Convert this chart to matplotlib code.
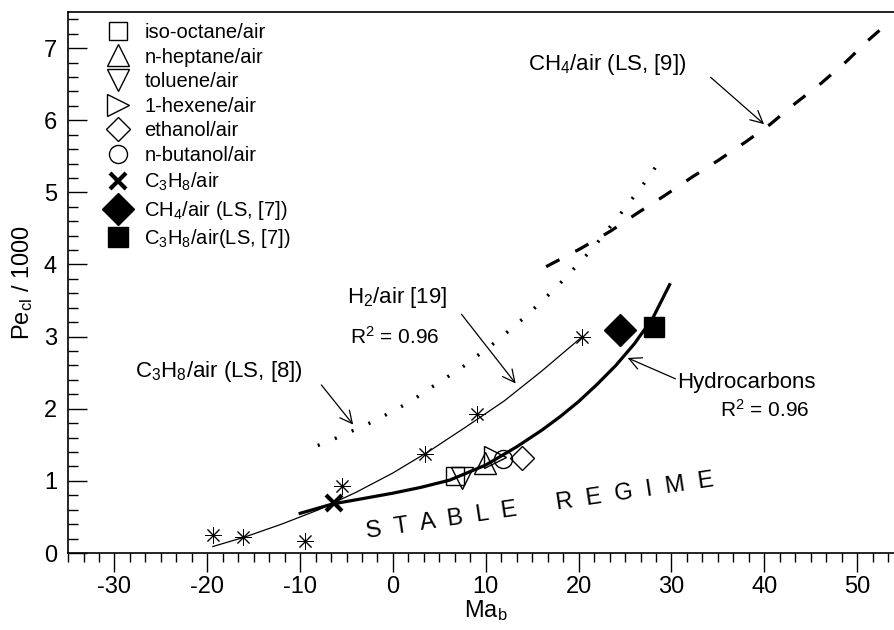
import matplotlib
matplotlib.use("Agg")
import matplotlib.pyplot as plt
from matplotlib.ticker import MultipleLocator, AutoMinorLocator

plt.rcParams["font.family"] = ["Liberation Sans", "DejaVu Sans"]
plt.rcParams["mathtext.fontset"] = "custom"
plt.rcParams["mathtext.rm"] = "Liberation Sans"
plt.rcParams["mathtext.it"] = "Liberation Sans:italic"
plt.rcParams["axes.unicode_minus"] = False

# H2/air [19] measurements
h2_ma = [-19.4, -16.2, -9.5, -5.5, 3.5, 9.0, 20.4]
h2_pe = [0.25, 0.22, 0.17, 0.93, 1.37, 1.93, 3.0]

# fitted curves
h2_fit_ma = [-19.4, -16, -12, -8, -4, 0, 4, 8, 12, 16, 20.4]
h2_fit_pe = [0.09, 0.22, 0.40, 0.60, 0.84, 1.11, 1.42, 1.76, 2.11, 2.52, 3.0]
hc_fit_ma = [-10.0, -6.5, -3, 0, 3, 6.1, 10, 13.3, 16, 18, 20, 22, 24, 26, 28, 29.8]
hc_fit_pe = [0.55, 0.68, 0.76, 0.83, 0.91, 1.01, 1.22, 1.47, 1.70, 1.89, 2.10, 2.34,
             2.60, 2.90, 3.26, 3.72]

# LS references
c3h8_ls8_ma = [-8.1, -6.0, -2.0, 1.9, 3.7, 7.4, 11.0, 14.3, 17.5, 20.5, 22.0, 24.8, 27.5, 28.7]
c3h8_ls8_pe = [1.49, 1.60, 1.83, 2.10, 2.26, 2.57, 2.92, 3.28, 3.67, 4.08, 4.30, 4.75, 5.20, 5.43]
ch4_ls9_ma = [16.5, 20.2, 23.4, 26.3, 29.2, 32.2, 35.0, 38.0, 40.6, 43.4, 46.1, 48.8, 51.3, 53.5]
ch4_ls9_pe = [3.97, 4.22, 4.46, 4.71, 4.95, 5.21, 5.44, 5.70, 5.94, 6.24, 6.51, 6.81, 7.12, 7.37]

# hydrocarbon points
fuels = ["iso-octane/air", "n-heptane/air", "toluene/air", "1-hexene/air",
         "ethanol/air", "n-butanol/air"]
fuel_markers = ["s", "^", "v", ">", "D", "o"]
fuel_ma = [6.7, 9.9, 7.4, 11.0, 13.9, 11.8]
fuel_pe = [1.07, 1.25, 1.04, 1.33, 1.32, 1.30]
fuel_ms = [13, 16, 16, 16, 12, 13]

c3h8_ma, c3h8_pe = [-6.3], [0.70]
ch4_ls7_ma, ch4_ls7_pe = [24.5], [3.09]
c3h8_ls7_ma, c3h8_ls7_pe = [28.1], [3.13]

fig = plt.figure(figsize=(8.94, 6.3), dpi=100)
ax = fig.add_axes([0.0761, 0.1222, 0.9346, 0.8587])

ax.plot(h2_fit_ma, h2_fit_pe, color="k", lw=0.9)
ax.plot(hc_fit_ma, hc_fit_pe, color="k", lw=2.3)
ax.plot(c3h8_ls8_ma, c3h8_ls8_pe, color="k", lw=2.5, linestyle=(0, (0.6, 4.7)))
ax.plot(ch4_ls9_ma, ch4_ls9_pe, color="k", lw=2.3, linestyle=(0, (4.7, 5.6)))

ax.plot(h2_ma, h2_pe, linestyle="none", marker=(8, 2, 0), ms=12,
        mec="k", mew=0.7)

handles = []
for name, m, x, y, s in zip(fuels, fuel_markers, fuel_ma, fuel_pe, fuel_ms):
    h, = ax.plot([x], [y], linestyle="none", marker=m, ms=s, mfc="none",
                 mec="k", mew=1.0, label=name)
    handles.append(h)
h, = ax.plot(c3h8_ma, c3h8_pe, linestyle="none", marker="x", ms=12, mec="k",
             mew=3.0, label="C$_3$H$_8$/air")
handles.append(h)
h, = ax.plot(ch4_ls7_ma, ch4_ls7_pe, linestyle="none", marker="D", ms=16,
             mfc="k", mec="k", label="CH$_4$/air (LS, [7])")
handles.append(h)
h, = ax.plot(c3h8_ls7_ma, c3h8_ls7_pe, linestyle="none", marker="s", ms=15,
             mfc="k", mec="k", label="C$_3$H$_8$/air(LS, [7])")
handles.append(h)

ax.legend(handles=handles, loc="upper left", bbox_to_anchor=(0.03, 1.006),
          frameon=False, fontsize=14.5, handlelength=1.1, handletextpad=0.75,
          labelspacing=0.28, borderpad=0.2)

# annotations
arrow = dict(arrowstyle="->", color="k", lw=0.9, mutation_scale=22)
ax.text(23.1, 6.77, "CH$_4$/air (LS, [9])", fontsize=16, ha="center", va="center")
ax.annotate("", xy=(40.2, 5.92), xytext=(34.0, 6.62), arrowprops=arrow)

ax.text(0.4, 3.54, "H$_2$/air [19]", fontsize=16, ha="center", va="center")
ax.text(0.2, 3.0, "R$^2$ = 0.96", fontsize=15, ha="center", va="center")
ax.annotate("", xy=(13.4, 2.32), xytext=(7.2, 3.34), arrowprops=arrow)

ax.text(-9.7, 2.51, "C$_3$H$_8$/air (LS, [8])", fontsize=16, ha="right", va="center")
ax.annotate("", xy=(-4.1, 1.75), xytext=(-7.9, 2.36), arrowprops=arrow)

ax.text(38.1, 2.36, "Hydrocarbons", fontsize=16, ha="center", va="center")
ax.text(40.0, 1.98, "R$^2$ = 0.96", fontsize=15, ha="center", va="center")
ax.annotate("", xy=(25.0, 2.72), xytext=(30.7, 2.40), arrowprops=arrow)

ax.text(15.8, 0.65, "S  T  A  B  L  E      R  E  G  I  M  E", fontsize=17,
        ha="center", va="center", rotation=8.5)

ax.set_xlim(-35, 55)
ax.set_ylim(0, 7.5)
ax.xaxis.set_major_locator(MultipleLocator(10))
ax.xaxis.set_minor_locator(AutoMinorLocator(6))
ax.yaxis.set_major_locator(MultipleLocator(1))
ax.yaxis.set_minor_locator(AutoMinorLocator(5))
ax.tick_params(axis="x", which="major", direction="out", length=13.5, width=1.0,
               labelsize=17, pad=3)
ax.tick_params(axis="x", which="minor", direction="out", length=6.5, width=1.0)
ax.tick_params(axis="y", which="major", direction="in", length=13.5, width=1.0,
               labelsize=17, pad=8)
ax.tick_params(axis="y", which="minor", direction="in", length=7, width=1.0)
for sp in ax.spines.values():
    sp.set_linewidth(1.2)

ax.set_xlabel("Ma$_\\mathrm{b}$", fontsize=17, labelpad=0)
ax.set_ylabel("Pe$_\\mathrm{cl}$ / 1000", fontsize=17, labelpad=6)

fig.savefig("out.png", dpi=100)
